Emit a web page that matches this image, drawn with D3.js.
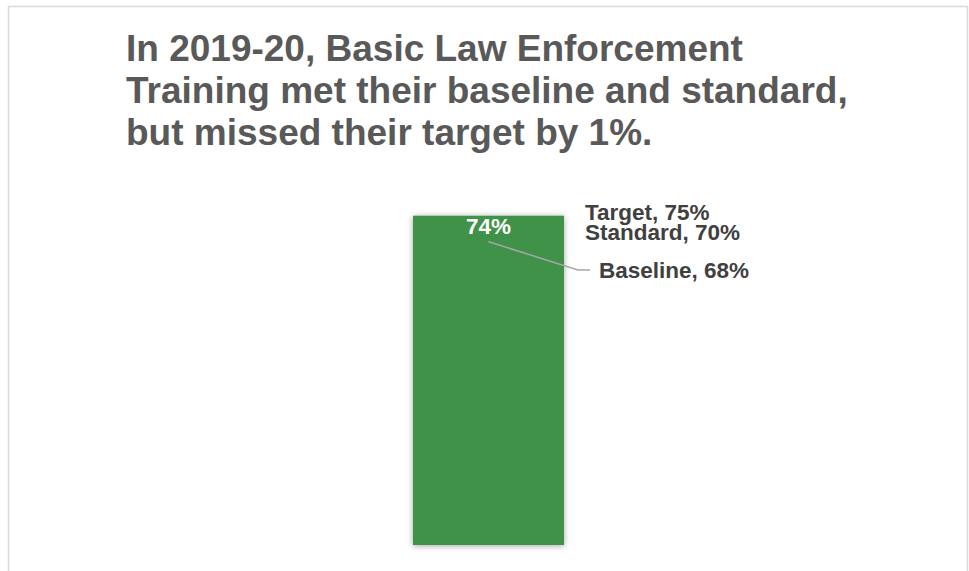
<!DOCTYPE html>
<html>
<head>
<meta charset="utf-8">
<script src="https://cdn.jsdelivr.net/npm/d3@7"></script>
<style>
  html, body { margin: 0; padding: 0; background: #fff; }
  svg { display: block; font-family: "Liberation Sans", Arial, sans-serif; }
</style>
</head>
<body>
<div id="chart"></div>
<script>
// data
const categories = ["2019-20"];
const values = [0.74];
const benchmarkNames = ["Target", "Standard", "Baseline"];
const benchmarkValues = [0.75, 0.70, 0.68];
const titleLines = [
  "In 2019-20, Basic Law Enforcement",
  "Training met their baseline and standard,",
  "but missed their target by 1%."
];

const W = 969, H = 571;
const pct = d3.format(".0%");

const svg = d3.select("#chart").append("svg")
  .attr("width", W)
  .attr("height", H);

// shadow for bar
const defs = svg.append("defs");
const f = defs.append("filter").attr("id", "shadow")
  .attr("x", "-20%").attr("y", "-10%").attr("width", "140%").attr("height", "120%");
f.append("feDropShadow")
  .attr("dx", 0).attr("dy", 1).attr("stdDeviation", 3)
  .attr("flood-color", "#000").attr("flood-opacity", 0.35);

// frame
svg.append("rect")
  .attr("x", 8.5).attr("y", 6.5)
  .attr("width", 959).attr("height", 600)
  .attr("fill", "#fff")
  .attr("stroke", "#d9d9d9")
  .attr("stroke-width", 1.5);

// title
svg.append("text")
  .attr("x", 126)
  .attr("y", 61)
  .attr("fill", "#595959")
  .attr("font-size", "37px")
  .attr("font-weight", "bold")
  .selectAll("tspan")
  .data(titleLines)
  .enter().append("tspan")
  .attr("x", 126)
  .attr("dy", (d, i) => i === 0 ? 0 : 42)
  .text(d => d);

// scales
const x = d3.scaleBand()
  .domain(categories)
  .range([262, 715])
  .paddingInner(0)
  .paddingOuter(1);

const y = d3.scaleLinear()
  .domain([0, 0.8])
  .range([545, 189]);

const bars = categories.map((c, i) => ({ cat: c, value: values[i] }));

svg.selectAll(".bar")
  .data(bars)
  .enter().append("rect")
  .attr("class", "bar")
  .attr("x", d => x(d.cat))
  .attr("y", d => y(d.value))
  .attr("width", x.bandwidth())
  .attr("height", d => y(0) - y(d.value))
  .attr("fill", "#40924a")
  .attr("filter", "url(#shadow)");

// value label
svg.selectAll(".val")
  .data(bars)
  .enter().append("text")
  .attr("class", "val")
  .attr("x", d => x(d.cat) + x.bandwidth() / 2)
  .attr("y", d => y(d.value) + 18)
  .attr("text-anchor", "middle")
  .attr("fill", "#fff")
  .attr("font-size", "22.5px")
  .attr("font-weight", "bold")
  .text(d => pct(d.value));

// benchmark labels
const barRight = x(categories[0]) + x.bandwidth();
const barMid = x(categories[0]) + x.bandwidth() / 2;
const labelPos = [
  { dx: 21, y: 220 },
  { dx: 21, y: 240 },
  { dx: 35, y: 278 }
];

// leader line for baseline
svg.append("polyline")
  .attr("points", [
    [barMid, y(values[0]) + 26],
    [barRight + 14, labelPos[2].y - 8],
    [barRight + 26, labelPos[2].y - 8]
  ].map(p => p.join(",")).join(" "))
  .attr("fill", "none")
  .attr("stroke", "#a6a6a6")
  .attr("stroke-width", 1.5);

svg.selectAll(".bench")
  .data(benchmarkNames)
  .enter().append("text")
  .attr("class", "bench")
  .attr("x", (d, i) => barRight + labelPos[i].dx)
  .attr("y", (d, i) => labelPos[i].y)
  .attr("fill", "#404040")
  .attr("font-size", "22.5px")
  .attr("font-weight", "bold")
  .text((d, i) => `${d}, ${pct(benchmarkValues[i])}`);
</script>
</body>
</html>
